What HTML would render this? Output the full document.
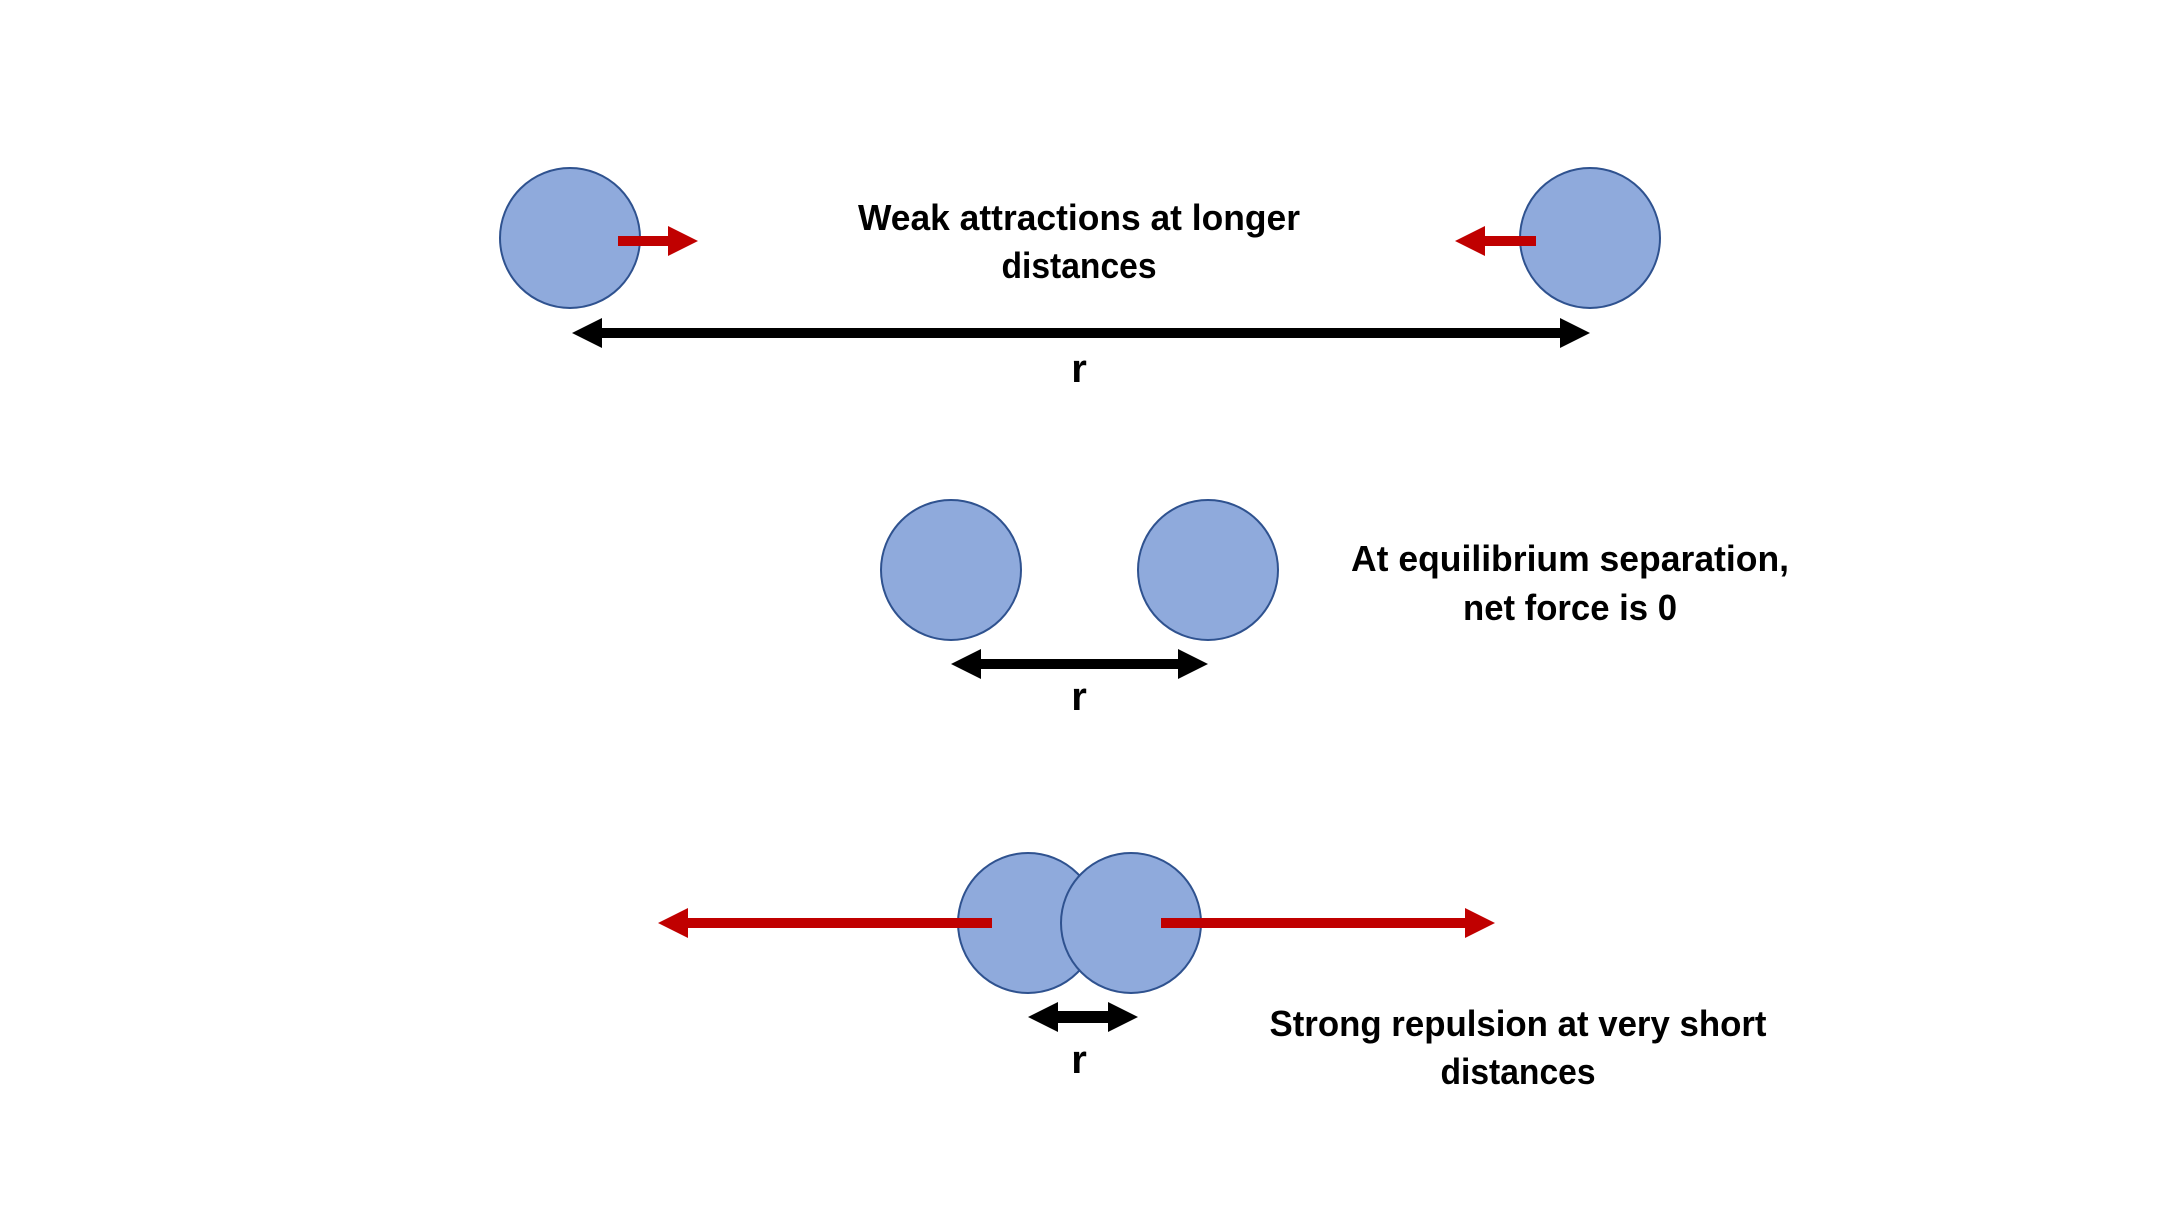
<!DOCTYPE html>
<html><head><meta charset="utf-8"><style>
html,body{margin:0;padding:0;background:#fff;}
svg{display:block;}
text{font-family:"Liberation Sans Narrow","Liberation Sans",sans-serif;font-weight:bold;fill:#000;}
</style></head><body>
<svg id="s" width="2160" height="1215" viewBox="0 0 2160 1215">
<g>
<circle cx="570" cy="238" r="70" fill="#8faadc" stroke="#2f528f" stroke-width="2"/>
<circle cx="1590" cy="238" r="70" fill="#8faadc" stroke="#2f528f" stroke-width="2"/>
<path fill="#c00000" d="M618,236 L668,236 L668,226 L698,241 L668,256 L668,246 L618,246 Z"/>
<path fill="#c00000" d="M1536,236 L1485,236 L1485,226 L1455,241 L1485,256 L1485,246 L1536,246 Z"/>
<path fill="#000" d="M572,333 L602,318 L602,328 L1560,328 L1560,318 L1590,333 L1560,348 L1560,338 L602,338 L602,348 Z"/>
<text x="1079" y="230" font-size="36" text-anchor="middle" textLength="442" lengthAdjust="spacingAndGlyphs">Weak attractions at longer</text>
<text x="1079" y="278" font-size="36" text-anchor="middle" textLength="155" lengthAdjust="spacingAndGlyphs">distances</text>
<text x="1079" y="382" font-size="40" text-anchor="middle">r</text>
</g>
<g>
<circle cx="951" cy="570" r="70" fill="#8faadc" stroke="#2f528f" stroke-width="2"/>
<circle cx="1208" cy="570" r="70" fill="#8faadc" stroke="#2f528f" stroke-width="2"/>
<path fill="#000" d="M951,664 L981,649 L981,659 L1178,659 L1178,649 L1208,664 L1178,679 L1178,669 L981,669 L981,679 Z"/>
<text x="1079" y="710" font-size="40" text-anchor="middle">r</text>
<text x="1570" y="571" font-size="36" text-anchor="middle" textLength="438" lengthAdjust="spacingAndGlyphs">At equilibrium separation,</text>
<text x="1570" y="620" font-size="36" text-anchor="middle" textLength="214" lengthAdjust="spacingAndGlyphs">net force is 0</text>
</g>
<g>
<circle cx="1028" cy="923" r="70" fill="#8faadc" stroke="#2f528f" stroke-width="2"/>
<circle cx="1131" cy="923" r="70" fill="#8faadc" stroke="#2f528f" stroke-width="2"/>
<path fill="#c00000" d="M992,918 L688,918 L688,908 L658,923 L688,938 L688,928 L992,928 Z"/>
<path fill="#c00000" d="M1161,918 L1465,918 L1465,908 L1495,923 L1465,938 L1465,928 L1161,928 Z"/>
<path fill="#000" d="M1028,1017 L1058,1002 L1058,1011 L1108,1011 L1108,1002 L1138,1017 L1108,1032 L1108,1023 L1058,1023 L1058,1032 Z"/>
<text x="1079" y="1073" font-size="40" text-anchor="middle">r</text>
<text x="1518" y="1036" font-size="36" text-anchor="middle" textLength="497" lengthAdjust="spacingAndGlyphs">Strong repulsion at very short</text>
<text x="1518" y="1084" font-size="36" text-anchor="middle" textLength="155" lengthAdjust="spacingAndGlyphs">distances</text>
</g>
</svg>
</body></html>
